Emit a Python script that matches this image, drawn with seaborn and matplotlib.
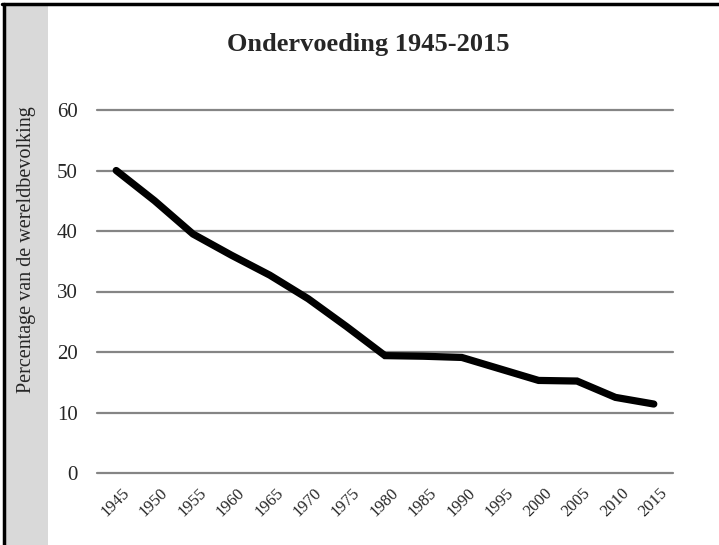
import matplotlib
matplotlib.use("Agg")
import matplotlib.pyplot as plt
import matplotlib.transforms as mtransforms
import seaborn as sns
import pandas as pd
from matplotlib.patches import Rectangle
from matplotlib.lines import Line2D

# Data
years = ["1945", "1950", "1955", "1960", "1965", "1970", "1975", "1980",
         "1985", "1990", "1995", "2000", "2005", "2010", "2015"]
percentage = [50, 45, 39.5, 36, 32.7, 28.8, 24.2, 19.4,
              19.3, 19.1, 17.2, 15.3, 15.2, 12.5, 11.4]
y_ticks = [0, 10, 20, 30, 40, 50, 60]

title = "Ondervoeding 1945-2015"
y_label = "Percentage van de wereldbevolking"

sns.set_theme(style="white")
plt.rcParams["font.family"] = ["Liberation Serif", "DejaVu Serif"]

W, H = 719, 545
fig = plt.figure(figsize=(W / 100, H / 100), dpi=100)

# grey band at the left and the black border (top + left)
fig.patches.append(Rectangle((5 / W, 0), 43 / W, 1 - 5 / H, transform=fig.transFigure,
                             facecolor="#d9d9d9", edgecolor="none", zorder=0))
fig.lines.append(Line2D([3.5 / W, 3.5 / W], [0, 1 - 3.5 / H], transform=fig.transFigure,
                        color="black", linewidth=2.5))
fig.lines.append(Line2D([2 / W, 1], [1 - 3.5 / H, 1 - 3.5 / H], transform=fig.transFigure,
                        color="black", linewidth=2.5))

ax = fig.add_axes([97 / W, 1 - 473 / H, (673 - 97) / W, (473 - 110) / H])
ax.set_facecolor("none")

df = pd.DataFrame({"jaar": years, "pct": percentage})
sns.lineplot(data=df, x="jaar", y="pct", ax=ax, color="black", linewidth=5.2,
             solid_capstyle="round", solid_joinstyle="miter", zorder=3)

ax.set_xlim(-0.5, len(years) - 0.5)
ax.set_ylim(0, 60)
ax.set_yticks(y_ticks)
ax.set_yticklabels([str(v) for v in y_ticks], fontsize=15)
ax.set_xticks(range(len(years)))
ax.set_xticklabels(years, rotation=45, ha="right", va="center",
                   rotation_mode="anchor", fontsize=12)
ax.tick_params(axis="both", length=0)
ax.tick_params(axis="y", pad=14)
ax.tick_params(axis="x", pad=13)

# nudge the slanted year labels to the right, like the original
shift = mtransforms.ScaledTranslation(11 / 100, 0, fig.dpi_scale_trans)
for lab in ax.get_xticklabels():
    lab.set_transform(lab.get_transform() + shift)

ax.grid(axis="y", color="#858585", linewidth=1.6)
ax.grid(axis="x", visible=False)
for gl in ax.get_ygridlines():
    gl.set_clip_on(False)
for s in ax.spines.values():
    s.set_visible(False)

ax.set_xlabel("")
ax.set_ylabel("")
fig.text(27 / W, 1 - 250 / H, y_label, rotation=90, ha="center", va="center", fontsize=14.5)
fig.text(368 / W, 1 - 45 / H, title, ha="center", va="center", fontsize=19, fontweight="bold")

fig.savefig("out.png", dpi=100, facecolor="white")
